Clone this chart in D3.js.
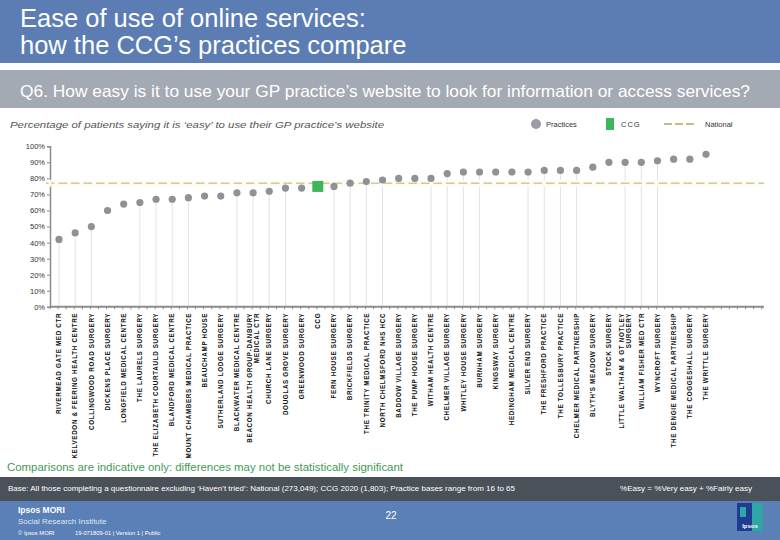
<!DOCTYPE html>
<html><head><meta charset="utf-8">
<script src="https://cdn.jsdelivr.net/npm/d3@7"></script>
<style>body{margin:0;background:#fff}svg{display:block;font-family:"Liberation Sans",Arial,sans-serif}</style>
</head><body><svg id="c" width="780" height="540"></svg>
<script>
const categories = [
  ["RIVERMEAD GATE MED CTR"],
  ["KELVEDON & FEERING HEALTH CENTRE"],
  ["COLLINGWOOD ROAD SURGERY"],
  ["DICKENS PLACE SURGERY"],
  ["LONGFIELD MEDICAL CENTRE"],
  ["THE LAURELS SURGERY"],
  ["THE ELIZABETH COURTAULD SURGERY"],
  ["BLANDFORD MEDICAL CENTRE"],
  ["MOUNT CHAMBERS MEDICAL PRACTICE"],
  ["BEAUCHAMP HOUSE"],
  ["SUTHERLAND LODGE SURGERY"],
  ["BLACKWATER MEDICAL CENTRE"],
  ["BEACON HEALTH GROUP-DANBURY", "MEDICAL CTR"],
  ["CHURCH LANE SURGERY"],
  ["DOUGLAS GROVE SURGERY"],
  ["GREENWOOD SURGERY"],
  ["CCG"],
  ["FERN HOUSE SURGERY"],
  ["BRICKFIELDS SURGERY"],
  ["THE TRINITY MEDICAL PRACTICE"],
  ["NORTH CHELMSFORD NHS HCC"],
  ["BADDOW VILLAGE SURGERY"],
  ["THE PUMP HOUSE SURGERY"],
  ["WITHAM HEALTH CENTRE"],
  ["CHELMER VILLAGE SURGERY"],
  ["WHITLEY HOUSE SURGERY"],
  ["BURNHAM SURGERY"],
  ["KINGSWAY SURGERY"],
  ["HEDINGHAM MEDICAL CENTRE"],
  ["SILVER END SURGERY"],
  ["THE FRESHFORD PRACTICE"],
  ["THE TOLLESBURY PRACTICE"],
  ["CHELMER MEDICAL PARTNERSHIP"],
  ["BLYTH'S MEADOW SURGERY"],
  ["STOCK SURGERY"],
  ["LITTLE WALTHAM & GT NOTLEY", "SURGERY"],
  ["WILLIAM FISHER MED CTR"],
  ["WYNCROFT SURGERY"],
  ["THE DENGIE MEDICAL PARTNERSHIP"],
  ["THE COGGESHALL SURGERY"],
  ["THE WRITTLE SURGERY"]
];
const values = [42,46,50,60,64,65,67,67,68,69,69,71,71,72,74,74,75,75,77,78,79,80,80,80,83,84,84,84,84,84,85,85,85,87,90,90,90,91,92,92,95];
const ccgName = "CCG";
const nationalValue = 77;
// drop lines visible in the reference (1 = shown)
const dropLines = [1,1,1,0,0,1,1,1,1,0,0,1,1,1,1,0,0,1,1,1,1,0,0,1,1,1,1,0,0,1,1,1,1,0,0,1,1,1,0,0,0];
const yTicks = [0,10,20,30,40,50,60,70,80,90,100];

const svg = d3.select("#c");
const blue = "#5b7db3";

// header
svg.append("rect").attr("x",0).attr("y",0).attr("width",780).attr("height",63).attr("fill",blue);
svg.append("text").attr("x",20).attr("y",27).attr("fill","#fff").attr("font-size",25.5).text("Ease of use of online services:");
svg.append("text").attr("x",20).attr("y",54).attr("fill","#fff").attr("font-size",25.5).text("how the CCG\u2019s practices compare");
svg.append("rect").attr("x",0).attr("y",70).attr("width",780).attr("height",38).attr("fill","#a3aab3");
svg.append("text").attr("x",20).attr("y",97).attr("fill","#fff").attr("font-size",16.5)
  .attr("textLength",730).attr("lengthAdjust","spacingAndGlyphs")
  .text("Q6. How easy is it to use your GP practice\u2019s website to look for information or access services?");
svg.append("text").attr("x",10).attr("y",128).attr("fill","#555").attr("font-size",9.5).attr("font-style","italic")
  .attr("textLength",374).attr("lengthAdjust","spacingAndGlyphs")
  .text("Percentage of patients saying it is \u2018easy\u2019 to use their GP practice\u2019s website");

// legend
svg.append("circle").attr("cx",536).attr("cy",124).attr("r",5).attr("fill","#9a9da3");
svg.append("text").attr("x",546).attr("y",127).attr("font-size",7.5).attr("fill","#333").text("Practices");
svg.append("rect").attr("x",606).attr("y",118).attr("width",8).attr("height",12).attr("fill","#3db55a");
svg.append("text").attr("x",621).attr("y",127).attr("font-size",7.5).attr("fill","#333").attr("letter-spacing",1).text("CCG");
svg.append("line").attr("x1",664).attr("x2",694).attr("y1",124).attr("y2",124).attr("stroke","#c6bb83").attr("stroke-width",2).attr("stroke-dasharray","8,3");
svg.append("text").attr("x",705).attr("y",127).attr("font-size",7.5).attr("fill","#333").text("National");

// scales
const names = categories.map(c => c.join(" "));
const x = d3.scalePoint().domain(names).range([59, 706]);
const y = d3.scaleLinear().domain([0,100]).range([306.8,146.3]);
const axisX0 = 50, axisX1 = 764;

// drop lines
const g = svg.append("g");
g.selectAll("line.drop").data(names.filter((n,i)=>dropLines[i])).join("line")
  .attr("class","drop")
  .attr("x1",d=>x(d)).attr("x2",d=>x(d))
  .attr("y1",d=>y(values[names.indexOf(d)])).attr("y2",y(0))
  .attr("stroke","#e2e2e2").attr("stroke-width",1);

// national line
const ny = y(nationalValue);
g.append("line").attr("x1",axisX0-4).attr("x2",axisX1).attr("y1",ny).attr("y2",ny)
  .attr("stroke","#fdfcf4").attr("stroke-width",6);
g.append("line").attr("x1",axisX0-4).attr("x2",axisX1).attr("y1",ny).attr("y2",ny)
  .attr("stroke","#d4ca95").attr("stroke-width",1.6).attr("stroke-dasharray","8.5,4");

// y axis
const yAxis = d3.axisLeft(y).tickValues(yTicks).tickFormat(d=>d+"%").tickSize(3);
const ya = svg.append("g").attr("transform",`translate(${axisX0},0)`).call(yAxis);
ya.select(".domain").attr("stroke","#8c8c8c").attr("stroke-width",1.5);
ya.selectAll(".tick line").attr("stroke","#8c8c8c");
ya.selectAll(".tick text").attr("font-size",7.5).attr("fill","#333").attr("font-family","Liberation Sans, Arial, sans-serif").attr("x",-5);
// gap in y axis behind the national band
svg.append("rect").attr("x",axisX0-1.5).attr("y",ny-3.5).attr("width",3).attr("height",7).attr("fill","#fdfcf4");

// x axis
const xa = svg.append("g").attr("transform",`translate(0,${y(0)})`);
xa.append("line").attr("x1",axisX0).attr("x2",axisX1).attr("y1",0).attr("y2",0).attr("stroke","#8c8c8c").attr("stroke-width",2);
const step = x.step();
const tickPos = d3.range(axisX0, axisX1+0.1, step/2);
xa.selectAll("line.t").data(tickPos).join("line").attr("class","t")
  .attr("x1",d=>d).attr("x2",d=>d).attr("y1",0).attr("y2",2.5).attr("stroke","#8c8c8c").attr("stroke-width",1);

// labels
const lab = svg.append("g");
categories.forEach((lines,i) => {
  const t = lab.append("text")
    .attr("transform",`translate(${x(names[i])},${y(0)+6}) rotate(-90)`)
    .attr("text-anchor","end").attr("font-size",6.3).attr("fill","#111")
    .attr("font-weight","bold").attr("letter-spacing",0.65);
  lines.forEach((ln,j) => {
    const off = (j - (lines.length-1)/2) * 1.15 + 0.35;
    t.append("tspan").attr("x",0).attr("y",0).attr("dy",off+"em").text(ln);
  });
});

// points
const pts = svg.append("g");
names.forEach((n,i) => {
  if (n === ccgName) {
    pts.append("rect").attr("x",x(n)-5.5).attr("y",y(values[i])-5.5).attr("width",11).attr("height",11).attr("fill","#3db55a");
  } else {
    pts.append("circle").attr("cx",x(n)).attr("cy",y(values[i])).attr("r",3.6).attr("fill","#8e9197");
  }
});

// footer
svg.append("text").attr("x",7).attr("y",471).attr("font-size",10).attr("fill","#3f9a55")
  .attr("textLength",396).attr("lengthAdjust","spacingAndGlyphs")
  .text("Comparisons are indicative only: differences may not be statistically significant");
svg.append("rect").attr("x",0).attr("y",477).attr("width",780).attr("height",24).attr("fill","#4b5159");
svg.append("text").attr("x",8).attr("y",491).attr("font-size",7.3).attr("fill","#fff")
  .attr("textLength",507).attr("lengthAdjust","spacingAndGlyphs")
  .text("Base: All those completing a questionnaire excluding \u2018Haven\u2019t tried\u2019: National (273,049); CCG 2020 (1,803); Practice bases range from 16 to 65");
svg.append("text").attr("x",620).attr("y",491).attr("font-size",7.3).attr("fill","#fff")
  .attr("textLength",132).attr("lengthAdjust","spacingAndGlyphs")
  .text("%Easy = %Very easy + %Fairly easy");
svg.append("rect").attr("x",0).attr("y",501).attr("width",780).attr("height",39).attr("fill","#5a80b7");
svg.append("text").attr("x",18).attr("y",513).attr("font-size",8.5).attr("font-weight","bold").attr("fill","#fff").text("Ipsos MORI");
svg.append("text").attr("x",18).attr("y",524).attr("font-size",8).attr("fill","#dfe6f2").text("Social Research Institute");
svg.append("text").attr("x",18).attr("y",535).attr("font-size",5.8).attr("fill","#fff").text("\u00A9 Ipsos MORI");
svg.append("text").attr("x",75).attr("y",535).attr("font-size",5.8).attr("fill","#fff").text("19-071809-01 | Version 1 | Public");
svg.append("text").attr("x",391).attr("y",519).attr("font-size",10).attr("fill","#fff").attr("text-anchor","middle").text("22");
// logo
svg.append("rect").attr("x",737).attr("y",503).attr("width",26).attr("height",28).attr("fill","#2fa6a6");
svg.append("rect").attr("x",737).attr("y",503).attr("width",15).attr("height",28).attr("fill","#1e3d8f");
svg.append("rect").attr("x",740).attr("y",507).attr("width",6).attr("height",10).attr("fill","#2fa6a6");
svg.append("text").attr("x",750).attr("y",528).attr("font-size",6).attr("font-weight","bold").attr("fill","#fff").attr("text-anchor","middle").text("Ipsos");
</script></body></html>
